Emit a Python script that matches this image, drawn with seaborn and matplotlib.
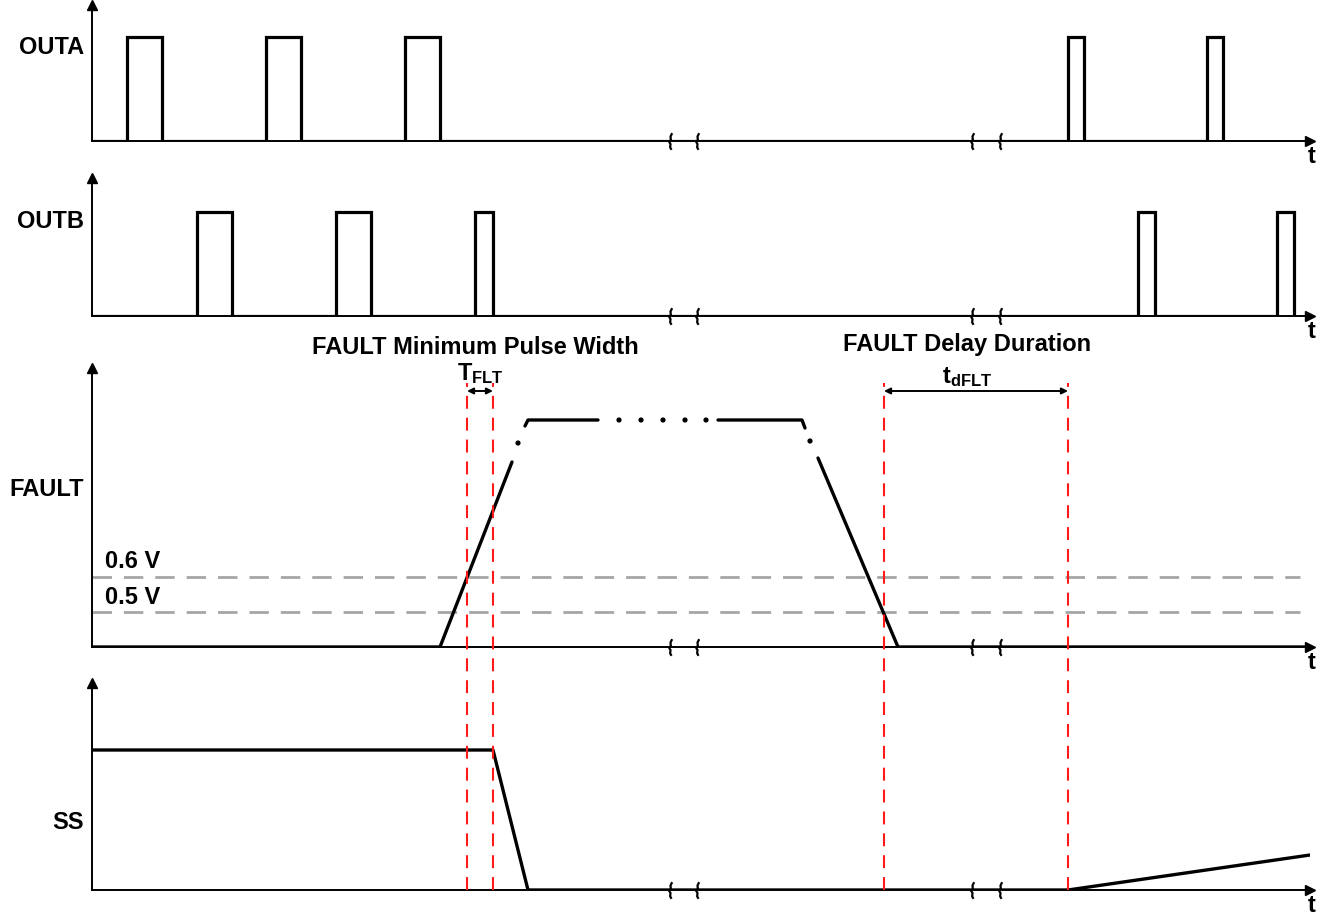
import matplotlib
matplotlib.use('Agg')
import matplotlib.pyplot as plt
from matplotlib.path import Path
import seaborn as sns

sns.set_theme(style='white')
plt.rcParams['font.family'] = ['Liberation Sans', 'DejaVu Sans']
plt.rcParams['text.color'] = 'black'
plt.rcParams['mathtext.fontset'] = 'custom'
plt.rcParams['mathtext.rm'] = 'Liberation Sans:bold'
plt.rcParams['mathtext.it'] = 'Liberation Sans:bold'
plt.rcParams['mathtext.bf'] = 'Liberation Sans:bold'

FS = 17

# time axis (arbitrary units)
t_start, t_end = 92, 1310
breaks = [670, 697, 972, 1000]

# gate outputs: rising / falling edges
outa_rise = [127, 266, 405, 1068, 1207]
outa_fall = [162, 301, 440, 1084, 1223]
outb_rise = [197, 336, 475, 1138, 1277]
outb_fall = [232, 371, 493, 1155, 1294]
pulse_high = 104

# FAULT pin waveform (broken into segments + dots)
fault_rise_t = [92, 440, 512]
fault_rise_v = [0, 0, 185]
fault_top_t = [525, 528, 598]
fault_top_v = [221, 227, 227]
fault_top2_t = [718, 802, 805]
fault_top2_v = [227, 227, 219]
fault_fall_t = [818, 898, 1310]
fault_fall_v = [189, 0, 0]
fault_dots_t = [518, 619, 641, 663, 685, 706, 810]
fault_dots_v = [204, 227, 227, 227, 227, 227, 206]
thresholds = [70, 35]
threshold_labels = ['0.6 V', '0.5 V']
threshold_label_v = [85, 50]

# soft start
ss_t = [92, 493, 528, 1068, 1310]
ss_v = [140, 140, 0, 0, 35]

# timing markers
tflt = [467, 493]
tdflt = [884, 1068]

W, H = 1323, 913
fig = plt.figure(figsize=(W / 100, H / 100), dpi=100)

# (baseline px, top px, label, label height)
panels = [(141, 5, 'OUTA', 93), (316, 178, 'OUTB', 94),
          (647, 368, 'FAULT', 157), (890, 683, 'SS', 68)]

brk = Path([(0.1, 0.5), (0.0, 0.3), (0.02, 0.1), (-0.08, -0.02),
            (0.0, -0.15), (-0.02, -0.35), (0.06, -0.5)])

axes = []
for base, top, label, ly in panels:
    ax = fig.add_axes([t_start / W, 1 - base / H, (t_end - t_start) / W, (base - top) / H])
    ax.set_facecolor('none')
    ax.set_xlim(t_start, t_end)
    ax.set_ylim(0, base - top)
    ax.set_xticks([])
    ax.set_yticks([])
    for s in ['top', 'right']:
        ax.spines[s].set_visible(False)
    for s in ['left', 'bottom']:
        ax.spines[s].set_color('black')
        ax.spines[s].set_linewidth(1.4)
    ax.plot(1, 0, '>', color='black', ms=7, transform=ax.get_yaxis_transform(), clip_on=False)
    ax.plot(0, 1, '^', color='black', ms=7, transform=ax.transAxes, clip_on=False)
    ax.plot(breaks, [0] * len(breaks), ls='none', marker=brk, ms=12, mew=1.6,
            mfc='none', mec='black', clip_on=False)
    ax.annotate('t', xy=(1, 0), xycoords='axes fraction', xytext=(1, -3),
                textcoords='offset points', ha='center', va='top',
                fontsize=FS, fontweight='bold')
    ax.annotate(label, xy=(0, ly), xycoords=ax.get_yaxis_transform(), xytext=(-6, 0),
                textcoords='offset points', ha='right', va='center',
                fontsize=FS, fontweight='bold')
    axes.append(ax)

ax_a, ax_b, ax_f, ax_s = axes


def pulse_train(rise, fall, high):
    xs, ys = [t_start], [0]
    for r, f in zip(rise, fall):
        xs += [r, r, f, f]
        ys += [0, high, high, 0]
    return xs, ys


for ax, rise, fall in [(ax_a, outa_rise, outa_fall), (ax_b, outb_rise, outb_fall)]:
    xs, ys = pulse_train(rise, fall, pulse_high)
    sns.lineplot(x=xs, y=ys, ax=ax, color='black', lw=2.3, sort=False, estimator=None)
    ax.lines[-1].set_solid_joinstyle('miter')

# FAULT
for y in thresholds:
    ax_f.hlines(y, t_start, 1300, color='#a6a6a6', lw=2, linestyles=(0, (7, 4.3)))
for lab, y in zip(threshold_labels, threshold_label_v):
    ax_f.text(105, y, lab, ha='left', va='center', fontsize=FS, fontweight='bold')
for xs, ys in [(fault_rise_t, fault_rise_v), (fault_top_t, fault_top_v),
               (fault_top2_t, fault_top2_v), (fault_fall_t, fault_fall_v)]:
    sns.lineplot(x=xs, y=ys, ax=ax_f, color='black', lw=2.4, sort=False, estimator=None)
sns.scatterplot(x=fault_dots_t, y=fault_dots_v, ax=ax_f, color='black', s=14,
                edgecolor='none')

ax_f.text(475, 299, 'FAULT Minimum Pulse Width', ha='center', va='center',
          fontsize=FS, fontweight='bold')
ax_f.text(967, 302, 'FAULT Delay Duration', ha='center', va='center',
          fontsize=FS, fontweight='bold')
ax_f.text(480, 273, r'$\mathrm{T}_{\mathrm{FLT}}$', ha='center', va='center', fontsize=FS)
ax_f.text(967, 270, r'$\mathrm{t}_{\mathrm{dFLT}}$', ha='center', va='center', fontsize=FS)
for pair in [tflt, tdflt]:
    ax_f.annotate('', xy=(pair[0], 256), xytext=(pair[1], 256),
                  arrowprops=dict(arrowstyle='<|-|>', color='black', lw=1.4,
                                  mutation_scale=9, shrinkA=0, shrinkB=0))

# SS
sns.lineplot(x=ss_t, y=ss_v, ax=ax_s, color='black', lw=2.4, sort=False, estimator=None)

for x in tflt + tdflt:
    ax_s.axvline(x, ymin=0, ymax=(890 - 383) / (890 - 683), color='#ff1a1a', lw=1.5,
                 dashes=(6.2, 4.3), clip_on=False, zorder=5)

fig.savefig('out.png', dpi=100)
